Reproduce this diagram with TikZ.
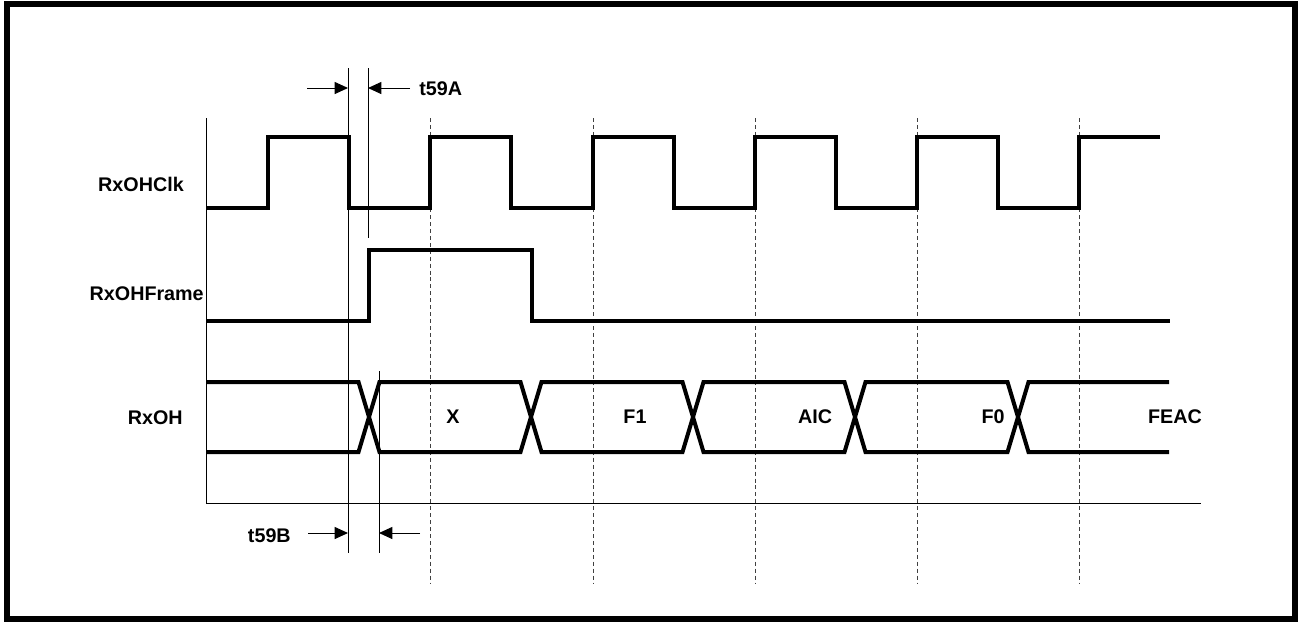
\documentclass[tikz,border=0pt]{standalone}
\usepackage{fontspec}
\setmainfont{Liberation Sans}
\usetikzlibrary{arrows.meta}

\tikzset{
  sig/.style={line width=3pt},
  guide/.style={line width=0.75pt},
  grid/.style={line width=0.75pt, black!75, dash pattern=on 3pt off 2.2pt},
  tarrow/.style={line width=0.75pt, -{Triangle[length=10pt,width=9pt]}},
  lbl/.style={font=\fontsize{14.8}{17}\selectfont\bfseries, inner sep=0pt}
}

\begin{document}
\begin{tikzpicture}[x=0.75pt, y=-0.75pt]
        \useasboundingbox (0,0) rectangle (1298,622);
        \draw[line width=4pt] (7,4) rectangle (1295,619);
        % axes
        \draw[guide] (206,118) -- (206,503) -- (1201,503);
        % cycle markers
        \foreach \g in {430,593,755,917,1079}
          \draw[grid] (\g,118) -- (\g,583);
        % timing references
        \draw[guide] (348,68) -- (348,553);
        \draw[guide] (368,68) -- (368,238);
        \draw[guide] (379,371) -- (379,553);
        \coordinate (aL) at (307,88);
        \coordinate (aR) at (410,88);
        \coordinate (bL) at (308,533);
        \coordinate (bR) at (420,533);
        \draw[tarrow] (aL) -- (348,88);
        \draw[tarrow] (aR) -- (368,88);
        \draw[tarrow] (bL) -- (348,533);
        \draw[tarrow] (bR) -- (379,533);
        \node[lbl, anchor=west] (tA) at (419,89) {t59A};
        \node[lbl, anchor=east] (tB) at (291,536) {t59B};
        % signal names
        \node[lbl, anchor=east] (clk) at (184,184) {RxOHClk};
        \node[lbl, anchor=east] (frm) at (204,294) {RxOHFrame};
        \node[lbl, anchor=east] (oh) at (183,418) {RxOH};
        % clock
        \draw[sig] (206,208)
          foreach \r in {268,430,593,755,917} {
            -- (\r,208) -- (\r,137) -- ({\r+81},137) -- ({\r+81},208)
          } -- (1079,208) -- (1079,137) -- (1160,137);
        % frame pulse
        \draw[sig] (206,321) -- (369,321) -- (369,250) -- (532,250)
          -- (532,321) -- (1170,321);
        % data bus
        \draw[sig] (206,382) -- (358.5,382) -- (369,417) -- (358.5,452) -- (206,452);
        \foreach \a/\b in {369/531,531/693,693/855,855/1018}
          \draw[sig] (\a,417) -- ({\a+10.5},382) -- ({\b-10.5},382) -- (\b,417)
            -- ({\b-10.5},452) -- ({\a+10.5},452) -- cycle;
        \draw[sig] (1169,382) -- (1028.5,382) -- (1018,417) -- (1028.5,452) -- (1169,452);
        \node[lbl] (dX) at (453,417) {X};
        \node[lbl] (dF1) at (635,417) {F1};
        \node[lbl] (dAIC) at (815,417) {AIC};
        \node[lbl] (dF0) at (993,417) {F0};
        \node[lbl] (dFEAC) at (1175,417) {FEAC};
\end{tikzpicture}
\end{document}
